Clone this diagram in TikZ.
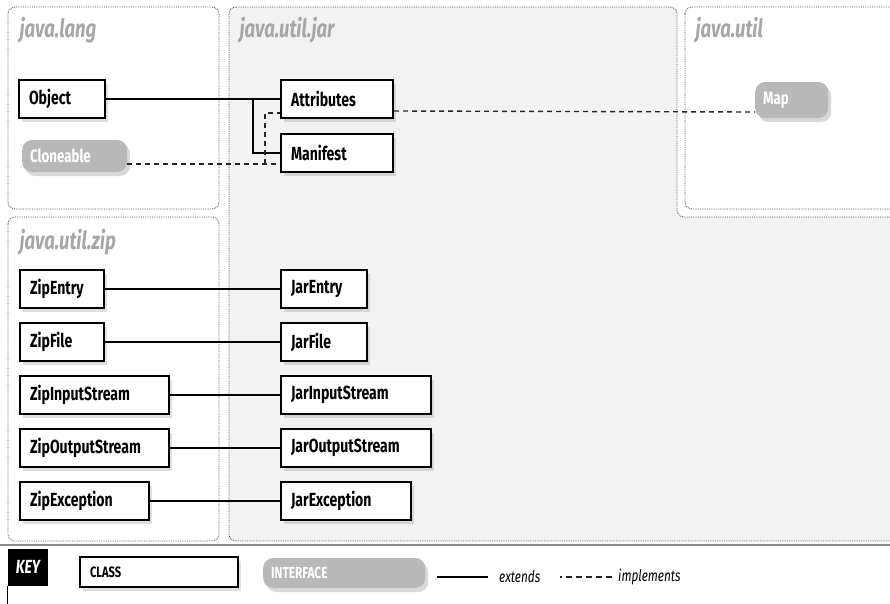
\documentclass[tikz,border=0pt]{standalone}
\usepackage{fontspec}
\setmainfont{Fira Sans}[FakeStretch=0.74]
\usetikzlibrary{shadows}

\begin{document}
\begin{tikzpicture}[x=1pt,y=-1pt,
    cls/.style={draw,line width=2pt,fill=white,text width=#1,align=left,
      minimum height=38pt,inner xsep=10pt,anchor=west,
      font=\fontsize{19}{19}\selectfont\bfseries,
      drop shadow={shadow xshift=3pt,shadow yshift=-4pt,opacity=0.25}},
    iface/.style={fill=black!28,text=white,rounded corners=10pt,text width=#1,
      align=left,minimum height=32pt,inner xsep=8pt,anchor=west,
      font=\fontsize{18}{18}\selectfont\bfseries,
      drop shadow={shadow xshift=3pt,shadow yshift=-4pt,opacity=0.3}},
    pkgbox/.style={draw=black!70,densely dotted,line width=0.8pt,rounded corners=7pt},
    pkglabel/.style={anchor=west,text=black!35,
      font=\fontsize{25}{25}\selectfont\bfseries\itshape},
    extline/.style={line width=1.6pt},
    implline/.style={line width=1.4pt,draw=black!85,dash pattern=on 5pt off 4pt}]
  \useasboundingbox (0,0) rectangle (890,603);

  % packages
  \draw[pkgbox,fill=black!5] (229,7) -- (677,7) -- (677,217) -- (900,217)
    -- (900,541) -- (229,541) -- cycle;
  \draw[pkgbox] (8,7) rectangle (219,209);
  \draw[pkgbox] (8,217) rectangle (219,541);
  \draw[pkgbox,fill=white] (685,7) rectangle (900,209);
  \node[pkglabel] (langlbl) at (16,30) {java.lang};
  \node[pkglabel] (jarlbl) at (236,30) {java.util.jar};
  \node[pkglabel] (utillbl) at (692,30) {java.util};
  \node[pkglabel] (ziplbl) at (16,242) {java.util.zip};

  % classes and interfaces
  \node[cls=66] (object) at (18,99) {Object};
  \node[iface=89] (cloneable) at (22,156) {Cloneable};
  \node[cls=92] (attributes) at (280,99) {Attributes};
  \node[cls=92] (manifest) at (280,153) {Manifest};
  \node[iface=57,minimum height=36pt] (map) at (755,100) {Map};

  \node[cls=64] (zipentry) at (19,289) {ZipEntry};
  \node[cls=66] (jarentry) at (280,289) {JarEntry};
  \node[cls=64] (zipfile) at (19,342) {ZipFile};
  \node[cls=66] (jarfile) at (280,342) {JarFile};
  \node[cls=129] (zipinputstream) at (19,395) {ZipInputStream};
  \node[cls=130] (jarinputstream) at (280,395) {JarInputStream};
  \node[cls=129] (zipoutputstream) at (19,448) {ZipOutputStream};
  \node[cls=130] (jaroutputstream) at (280,448) {JarOutputStream};
  \node[cls=109] (zipexception) at (19,501) {ZipException};
  \node[cls=110] (jarexception) at (280,501) {JarException};

  % extends
  \coordinate (objbend) at (253,99);
  \draw[extline] (object.east) -- (attributes.west);
  \draw[extline] (objbend) |- (manifest.west);
  \draw[extline] (zipentry.east) -- (jarentry.west);
  \draw[extline] (zipfile.east) -- (jarfile.west);
  \draw[extline] (zipinputstream.east) -- (jarinputstream.west);
  \draw[extline] (zipoutputstream.east) -- (jaroutputstream.west);
  \draw[extline] (zipexception.east) -- (jarexception.west);

  % implements
  \coordinate (clonebend) at (265,164);
  \draw[implline] (cloneable.east |- clonebend) -- (manifest.west |- clonebend);
  \draw[implline] (clonebend) |- ([yshift=-14pt]attributes.west);
  \draw[implline] ([yshift=-12pt]attributes.east) -- ([yshift=-12pt]map.west);

  % key
  \draw[black!45,line width=2pt] (0,545) -- (890,545);
  \node[fill=black,text=white,minimum width=40pt,minimum height=37pt,
    font=\fontsize{19}{19}\selectfont\bfseries\itshape] (key) at (28,567) {KEY};
  \draw[line width=0.8pt] (key.south west) -- ++(0,20);
  \node[cls=138,minimum height=30pt,font=\fontsize{15}{15}\selectfont\bfseries]
    (keyclass) at (79,572) {CLASS};
  \node[iface=146,minimum height=30pt,font=\fontsize{16}{16}\selectfont\bfseries]
    (keyiface) at (263,573) {INTERFACE};
  \node[anchor=west,inner sep=0pt,font=\fontsize{16}{16}\selectfont\itshape]
    (keyext) at (499,577) {extends};
  \node[anchor=west,inner sep=0pt,font=\fontsize{16}{16}\selectfont\itshape]
    (keyimpl) at (618,577) {implements};
  \draw[extline] ([xshift=-11pt]keyext.west) -- ++(-51,0);
  \draw[implline,dash pattern=on 6pt off 4pt] ([xshift=-6pt]keyimpl.west) -- ++(-52,0);
\end{tikzpicture}
\end{document}
